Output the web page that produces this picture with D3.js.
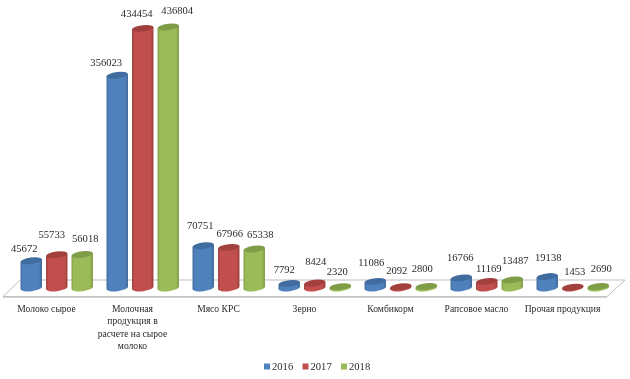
<!DOCTYPE html>
<html>
<head>
<meta charset="utf-8">
<script src="https://cdn.jsdelivr.net/npm/d3@7"></script>
<style>
    html, body { margin: 0; padding: 0; background: #fff; }
    text { font-family: "Liberation Serif", serif; fill: #2b2b2b; }
</style>
</head>
<body>
<div id="chart"></div>
<script>
const categories = [
    ["Молоко сырое"],
    ["Молочная", "продукция в", "расчете на сырое", "молоко"],
    ["Мясо КРС"],
    ["Зерно"],
    ["Комбикорм"],
    ["Рапсовое масло"],
    ["Прочая продукция"]
];
const years = ["2016", "2017", "2018"];
const values2016 = [45672, 356023, 70751, 7792, 11086, 16766, 19138];
const values2017 = [55733, 434454, 67966, 8424, 2092, 11169, 1453];
const values2018 = [56018, 436804, 65338, 2320, 2800, 13487, 2690];
const seriesValues = [values2016, values2017, values2018];

// hand placed data labels in the original, offset from the top of each bar
const labelDx = [
    [-7, -11, -3, -5, -4, -1, 1],
    [-5, -6, 1, 1, -4, 2, 2],
    [3, 9, 6, -3, -4, 3, 3]
];
const labelDy = [
    [-11, -12, -19, -13, -18, -19, -18],
    [-19, -14, -13, -20, -15, -12, -15],
    [-15, -15, -13, -14, -17, -18, -17]
];

const colors = ["#4f81bd", "#c0504d", "#9bbb59"];
const darkColors = ["#3d6897", "#9c3e3c", "#7f9b47"];
const topColors = ["#3f6c9f", "#a23f3d", "#7f9c47"];

const width = 630, height = 379;
const rx = 10.8, ry = 3.2, tilt = -7;

const svg = d3.select("#chart").append("svg")
    .attr("width", width)
    .attr("height", height);

const defs = svg.append("defs");
defs.append("filter").attr("id", "soft")
    .append("feGaussianBlur").attr("stdDeviation", 0.35);

colors.forEach((c, i) => {
    const grad = defs.append("linearGradient").attr("id", "side" + i);
    grad.append("stop").attr("offset", "0%").attr("stop-color", darkColors[i]);
    grad.append("stop").attr("offset", "10%").attr("stop-color", c);
    grad.append("stop").attr("offset", "85%").attr("stop-color", c);
    grad.append("stop").attr("offset", "100%").attr("stop-color", darkColors[i]);
});

const x = d3.scaleBand()
    .domain(d3.range(categories.length))
    .range([-1, 601]);

const xYear = d3.scaleBand()
    .domain(d3.range(years.length))
    .range([19.5, 96]);

const y = d3.scaleLinear()
    .domain([0, 436804])
    .range([288, 27]);

const chart = svg.append("g").attr("filter", "url(#soft)");

// floor of the 3d plot
chart.append("path")
    .attr("d", d3.line()([[3, 296.5], [607, 296.5], [625, 280], [20, 280]]) + "Z")
    .attr("fill", "#fff")
    .attr("stroke", "#bdbdbd")
    .attr("stroke-width", 1);
chart.append("line")
    .attr("x1", 3).attr("x2", 607)
    .attr("y1", 297).attr("y2", 297)
    .attr("stroke", "#c4c4c4")
    .attr("stroke-width", 1.5);

const rad = tilt * Math.PI / 180;
const ex = rx * Math.cos(rad), ey = rx * Math.sin(rad);

seriesValues.forEach((vals, s) => {
    const g = chart.append("g");
    vals.forEach((v, c) => {
        const cx = x(c) + xYear(s) + xYear.bandwidth() / 2;
        const y0 = y(0), y1 = y(v);

        // body: down the left side, under the bottom arc, up the right side
        g.append("path")
            .attr("d", `M${cx - ex},${y1 - ey} L${cx - ex},${y0 - ey}` +
                ` A${rx},${ry} ${tilt} 0 0 ${cx + ex},${y0 + ey}` +
                ` L${cx + ex},${y1 + ey} Z`)
            .attr("fill", `url(#side${s})`);

        g.append("ellipse")
            .attr("rx", rx).attr("ry", ry)
            .attr("transform", `translate(${cx},${y1}) rotate(${tilt})`)
            .attr("fill", topColors[s]);

        chart.append("text")
            .attr("x", cx + labelDx[s][c])
            .attr("y", y1 + labelDy[s][c])
            .attr("text-anchor", "middle")
            .attr("dominant-baseline", "middle")
            .attr("font-size", 10.6)
            .text(v);
    });
});

// category labels sit a little left of their bars
categories.forEach((lines, c) => {
    const t = chart.append("text")
        .attr("text-anchor", "middle")
        .attr("font-size", 9.6)
        .attr("y", 312);
    lines.forEach((line, i) => {
        t.append("tspan")
            .attr("x", x(c) + x.bandwidth() / 2 + 4.5)
            .attr("dy", i ? 12.3 : 0)
            .text(line);
    });
});

// legend
const legend = chart.selectAll(".legend")
    .data(years)
    .enter()
    .append("g")
    .attr("class", "legend")
    .attr("transform", (d, i) => `translate(${264 + i * 38.5},363.5)`);

legend.append("rect")
    .attr("width", 6).attr("height", 6)
    .attr("fill", (d, i) => colors[i]);

legend.append("text")
    .attr("x", 8).attr("y", 6.5)
    .attr("font-size", 10.6)
    .text(d => d);
</script>
</body>
</html>
